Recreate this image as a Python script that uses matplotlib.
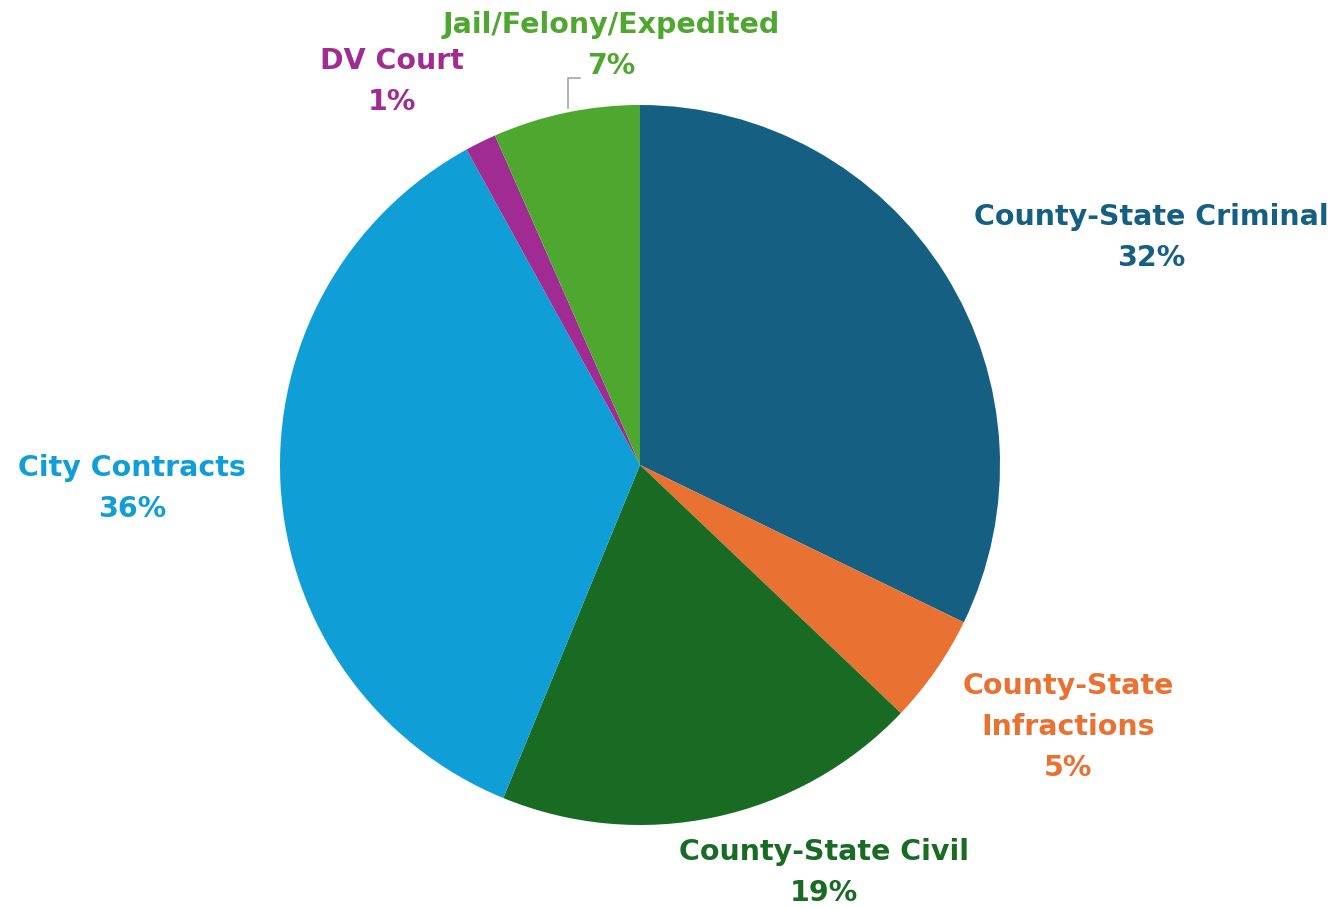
import matplotlib.pyplot as plt

# Slice names, shares (percent) and Office-style colours, clockwise from 12 o'clock.
categories = ["County-State Criminal", "County-State\nInfractions", "County-State Civil",
              "City Contracts", "DV Court", "Jail/Felony/Expedited"]
shares = [32.2, 4.9, 19.1, 35.8, 1.4, 6.6]
colors = ["#156082", "#E97132", "#196B24", "#0F9ED5", "#A02B93", "#4EA72E"]

# Label centres in pie-radius units (pie centred at 0, 0 with radius 1).
label_pos = [(1.42, 0.632), (1.19, -0.728), (0.51, -1.133),
             (-1.41, -0.066), (-0.69, 1.066), (-0.08, 1.166)]

plt.rcParams["font.family"] = ["DejaVu Sans"]

fig = plt.figure(figsize=(13.38, 9.09), dpi=100)
ax = fig.add_axes([(640 - 360) / 1338, (909 - 465 - 360) / 909, 720 / 1338, 720 / 909])

ax.pie(shares, colors=colors, startangle=90, counterclock=False, radius=1,
       wedgeprops=dict(linewidth=0))

for name, val, col, (x, y) in zip(categories, shares, colors, label_pos):
    ax.text(x, y, f"{name}\n{val:.0f}%", color=col, fontsize=20.5, fontweight="bold",
            ha="center", va="center", linespacing=1.58)

# Leader line for the small Jail/Felony/Expedited slice.
ax.plot([-0.2, -0.2, -0.167], [0.992, 1.075, 1.075], color="#a6a6a6", lw=1.2,
        clip_on=False)

ax.set_xlim(-1, 1)
ax.set_ylim(-1, 1)
ax.set_aspect("equal")
ax.axis("off")

fig.savefig("out.png", dpi=100, facecolor="white")
